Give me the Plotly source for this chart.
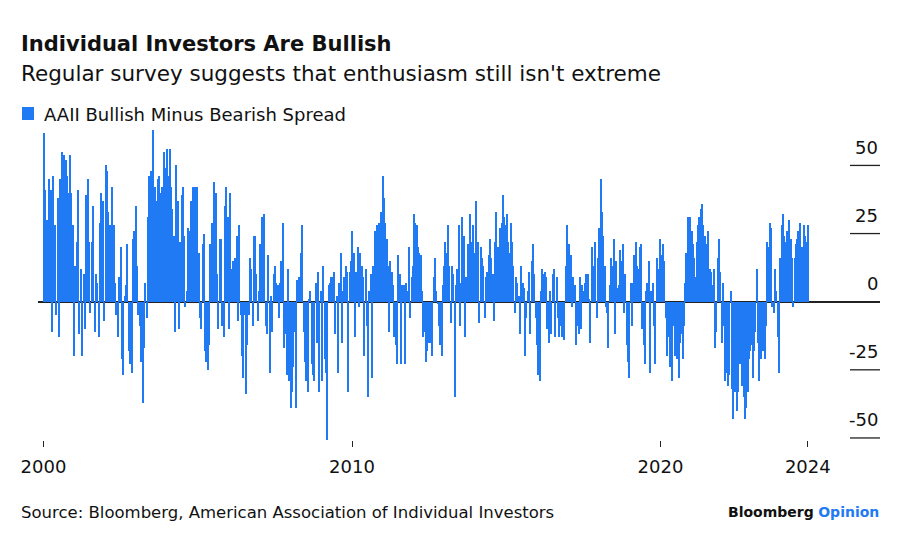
import plotly.graph_objects as go
import pandas as pd

# ---- data: AAII bullish minus bearish spread ----
spread_2000_2004 = [62, 41, 30, 13, 45, 41, -11, 46, 28, -5, 38, -13, 45, 55, 40, 54, 52, 46, 40, 54,
                    40, 28, -20, 13, 22, 41, -12, 12, -20, 10, -10, 39, 45, 22, -4, 22, 35, -11, 10, 7,
                    -13, 29, 40, 37, -7, 50, 48, 33, 28, 16, 42, 28, 7, -5, -13, 9, 20, -21, -27, 2,
                    6, 21, -18, -23, -26, 23, 26, 35, 13, -5, -9, -22, -37, -17, 7, -6, 31, 46, 48, 40,
                    63, 42, 37, 45, 46, 40, 42, 40, 55, 49, 56, 46]
spread_2004_2008 = [56, 42, 34, 24, -11, 50, 37, -10, 22, 39, 42, 24, -2, 4, 27, 26, 37, 33, 42, 42,
                    34, 42, 18, -6, -10, 21, 25, -18, -22, -25, -16, 21, 29, 28, 44, 40, 10, -10, 23, 23,
                    -9, -13, 35, 42, 31, -10, 40, 12, 15, 11, 16, 24, -7, 28, -5, -20, -28, -5, -34, -16,
                    -5, 16, 12, -9, 24, 24, 10, -7, 4, 21, 31, 16, 32, -9, -12, 17, -26, 2, -11, 10,
                    13, 7, 6, -6, 7, 15, 29, -17, -12, -27, 12, -29, -39, -33, -24, -11, -39, 8, 9]
spread_2008_2012 = [9, 18, 28, -11, -22, -29, -33, 1, 4, -23, -27, -29, 7, -15, 11, -33, 4, -29, 13, -21,
                    -26, -51, 6, 7, 9, 9, 11, -12, 2, -26, 7, 18, -15, 4, 9, 13, 11, -33, 11, 15,
                    26, 18, -13, 11, 20, -2, 18, 13, 9, -20, 12, -9, -35, 4, 10, -28, 13, 26, 21, 28,
                    29, 24, 33, 46, 38, 29, 23, 13, -11, 15, 11, 6, -13, -16, -23, 17, 10, -23, 6, 6,
                    -23, 7, 4, 20, -6, 9, 13, 32, 29, 28, 20, 18, 17, 4, -13, -11, -22, -18, -15]
spread_2012_2016 = [-13, -15, -20, 9, 16, 4, -1, -9, -16, -20, 6, 13, 22, 18, 28, 13, -8, 13, 10, -35,
                    6, 12, 28, -9, 7, 31, 24, -13, 9, 21, 16, 32, 22, 28, 18, 37, 18, 22, -8, 20,
                    16, 13, -6, 9, 11, 17, 23, 16, 10, -7, 22, 33, 20, 16, 27, 29, 39, 31, 28, 32,
                    22, 18, 29, 22, 13, -4, 9, 7, 2, -12, 13, 7, 5, -20, -6, 4, 11, -12, 15, 21,
                    10, -6, -16, -27, -29, 4, 12, 10, 11, 9, -10, -15, 4, -12, 10, 12, -13, 9, -6, -13]
spread_2016_2020 = [-9, -13, -13, -14, 13, 28, 20, 21, 17, -2, 9, 6, -16, -9, -12, 9, -10, 6, 4, 7,
                    10, 10, 1, -15, 20, 13, 12, 22, -6, 16, 27, 45, 33, 24, 13, -2, -4, -17, 6, 16,
                    13, 23, -12, 15, 5, 6, 19, 15, 21, -4, 10, -16, -22, -28, 7, -9, 7, 17, 22, 13,
                    12, 20, 21, -10, -16, -23, 4, 7, 15, -26, 4, 7, -9, -23, 16, 12, 6, 23, 17, 21,
                    15, -6, -20, -13, -24, -21, -29, -9, -20, -13, -21, -28, -15, -12, -21, -9, 7, 18, 31, 26]
spread_2020_2024 = [31, 26, 21, 16, 9, 22, 28, 31, 34, 36, 28, 24, 21, 13, 26, 12, 11, 6, 12, -17,
                    -11, 16, 23, 11, -15, 7, -9, -29, -26, -31, -27, 4, -32, -43, -33, -29, -40, -33, -23, -21,
                    -31, -35, -43, -39, -33, -21, -18, -16, -28, -18, -11, 12, -15, -29, -21, -13, -18, -21, -9, 22,
                    20, 29, 27, -2, -4, 12, 4, -13, -26, 16, 28, 32, 24, 22, 26, 18, 30, 23, 16, -2,
                    16, 21, 23, 26, 29, 18, 20, 28, 24, 22, 28]

segment_values = [spread_2000_2004, spread_2004_2008, spread_2008_2012,
                  spread_2012_2016, spread_2016_2020, spread_2020_2024]
segment_starts = ["2000-01-07", "2004-02-05", "2008-04-24", "2012-07-12", "2016-10-04", "2020-12-20"]
segment_ends = ["2004-01-23", "2008-04-10", "2012-06-28", "2016-09-20", "2020-12-06", "2024-10-10"]

tick_dates = ["2000-01-01", "2010-01-01", "2020-01-01", "2024-10-10"]
tick_labels = ["2000", "2010", "2020", "2024"]
y_ticks = [50, 25, 0, -25, -50]

# ---- build series ----
dates, values = [], []
for vals, s, e in zip(segment_values, segment_starts, segment_ends):
    dates.extend(pd.date_range(s, e, periods=len(vals)))
    values.extend(vals)

BLUE = "#1f7af4"
INK = "#111111"
FONT = "DejaVu Sans"

# page offset (default body margin) and plot area in screen pixels
OFF = 8
W, H = 900 - OFF, 543 - OFF
L, R, T, B = 38, 880, 130, 440


def px_x(px):
    return (px - L) / (R - L)


def px_y(py):
    return (B - py) / (B - T)


fig = go.Figure()
fig.add_trace(go.Bar(
    x=dates, y=values,
    width=16 * 86400000,
    marker=dict(color=BLUE, line=dict(width=0)),
    showlegend=False,
    hoverinfo="x+y",
))

shapes = []
annotations = []
for v in y_ticks:
    if v != 0:
        shapes.append(dict(type="line", xref="paper", yref="y",
                           x0=px_x(850), x1=1, y0=v, y1=v,
                           line=dict(color="#222222", width=1.3)))
    annotations.append(dict(text=str(v), xref="paper", yref="y", x=1, y=v,
                            xanchor="right", yanchor="middle", yshift=18, showarrow=False,
                            font=dict(family=FONT, size=18, color=INK)))

# legend swatch
shapes.append(dict(type="rect", xref="paper", yref="paper",
                   x0=px_x(22), x1=px_x(34), y0=px_y(120), y1=px_y(107),
                   fillcolor=BLUE, line=dict(width=0)))

annotations += [
    dict(text="<b>Individual Investors Are Bullish</b>", xref="paper", yref="paper",
         x=px_x(19), y=px_y(44), xanchor="left", yanchor="middle", showarrow=False,
         font=dict(family=FONT, size=21, color=INK)),
    dict(text="Regular survey suggests that enthusiasm still isn't extreme", xref="paper", yref="paper",
         x=px_x(19), y=px_y(73), xanchor="left", yanchor="middle", showarrow=False,
         font=dict(family=FONT, size=21.5, color=INK)),
    dict(text="AAII Bullish Minus Bearish Spread", xref="paper", yref="paper",
         x=px_x(42), y=px_y(114), xanchor="left", yanchor="middle", showarrow=False,
         font=dict(family=FONT, size=18, color=INK)),
    dict(text="Source: Bloomberg, American Association of Individual Investors", xref="paper", yref="paper",
         x=px_x(19), y=px_y(513), xanchor="left", yanchor="middle", showarrow=False,
         font=dict(family=FONT, size=16.5, color=INK)),
    dict(text="<b>Bloomberg</b> <span style='color:%s'><b>Opinion</b></span>" % BLUE,
         xref="paper", yref="paper",
         x=px_x(881), y=px_y(512), xanchor="right", yanchor="middle", showarrow=False,
         font=dict(family=FONT, size=14, color=INK)),
]

fig.update_layout(
    width=W, height=H,
    margin=dict(l=L - OFF, r=W - (R - OFF), t=T - OFF, b=H - (B - OFF), pad=0),
    paper_bgcolor="white", plot_bgcolor="white",
    bargap=0,
    shapes=shapes, annotations=annotations,
    xaxis=dict(type="date", range=["1999-10-28", "2027-02-12"],
               tickvals=tick_dates, ticktext=tick_labels,
               ticks="outside", ticklen=6, tickwidth=1.2, tickcolor="#222222",
               showgrid=False, showline=False, zeroline=False,
               tickfont=dict(family=FONT, size=18, color=INK), ticklabelstandoff=4),
    yaxis=dict(range=[-50.75, 63.0], showgrid=False, showticklabels=False,
               zeroline=True, zerolinecolor="#222222", zerolinewidth=1.5),
)

fig.write_html("out.html")
